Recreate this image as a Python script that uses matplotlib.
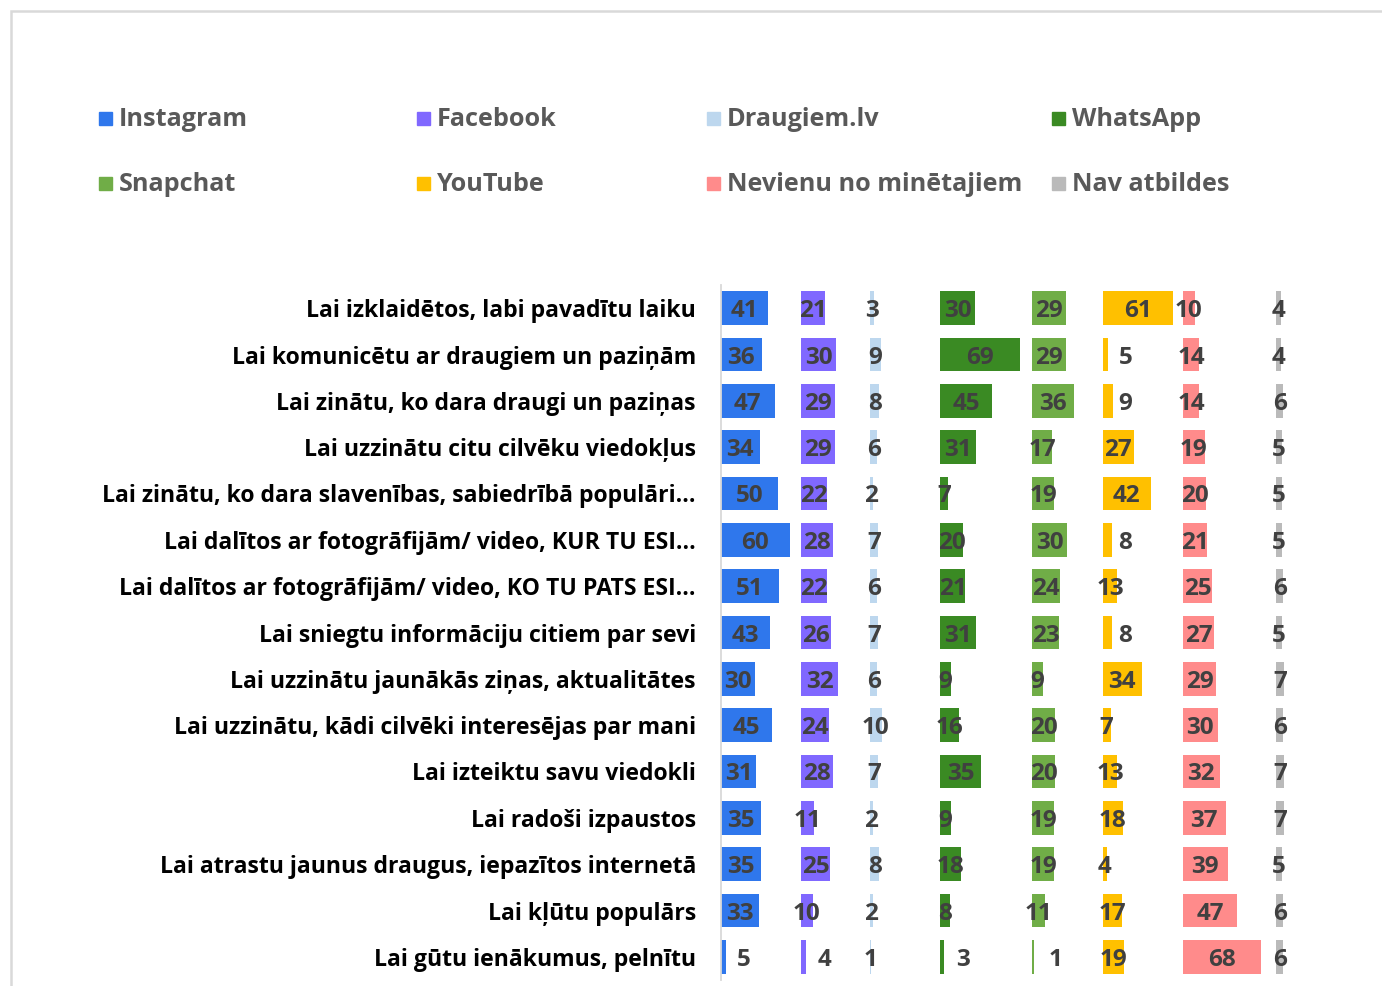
import matplotlib
matplotlib.use("Agg")
import matplotlib.pyplot as plt
from matplotlib.patches import Rectangle
from matplotlib import font_manager
import numpy as np

categories = [
    "Lai izklaidētos, labi pavadītu laiku",
    "Lai komunicētu ar draugiem un paziņām",
    "Lai zinātu, ko dara draugi un paziņas",
    "Lai uzzinātu citu cilvēku viedokļus",
    "Lai zinātu, ko dara slavenības, sabiedrībā populāri...",
    "Lai dalītos ar fotogrāfijām/ video, KUR TU ESI...",
    "Lai dalītos ar fotogrāfijām/ video, KO TU PATS ESI...",
    "Lai sniegtu informāciju citiem par sevi",
    "Lai uzzinātu jaunākās ziņas, aktualitātes",
    "Lai uzzinātu, kādi cilvēki interesējas par mani",
    "Lai izteiktu savu viedokli",
    "Lai radoši izpaustos",
    "Lai atrastu jaunus draugus, iepazītos internetā",
    "Lai kļūtu populārs",
    "Lai gūtu ienākumus, pelnītu",
]

series_names = ["Instagram", "Facebook", "Draugiem.lv", "WhatsApp",
                "Snapchat", "YouTube", "Nevienu no minētajiem", "Nav atbildes"]

instagram = [41, 36, 47, 34, 50, 60, 51, 43, 30, 45, 31, 35, 35, 33, 5]
facebook = [21, 30, 29, 29, 22, 28, 22, 26, 32, 24, 28, 11, 25, 10, 4]
draugiem = [3, 9, 8, 6, 2, 7, 6, 7, 6, 10, 7, 2, 8, 2, 1]
whatsapp = [30, 69, 45, 31, 7, 20, 21, 31, 9, 16, 35, 9, 18, 8, 3]
snapchat = [29, 29, 36, 17, 19, 30, 24, 23, 9, 20, 20, 19, 19, 11, 1]
youtube = [61, 5, 9, 27, 42, 8, 13, 8, 34, 7, 13, 18, 4, 17, 19]
nevienu = [10, 14, 14, 19, 20, 21, 25, 27, 29, 30, 32, 37, 39, 47, 68]
nav = [4, 4, 6, 5, 5, 5, 6, 5, 7, 6, 7, 7, 5, 6, 6]

series_values = [instagram, facebook, draugiem, whatsapp,
                 snapchat, youtube, nevienu, nav]

colors = ["#2F77EC", "#8068FF", "#BDD7EE", "#3A8A23",
          "#70AD47", "#FFC000", "#FF8B8B", "#BABABA"]

# column start (in value units) for each series panel
col_offsets = [0, 70, 130, 191, 271, 332, 402, 483]

# labels that sit beside their (too thin) bar instead of centred on it
outside_labels = {(0, 14), (1, 14), (3, 14), (4, 14),
                  (5, 1), (5, 2), (5, 5), (5, 7)}

# pick a bold-capable family
avail = {f.name: set() for f in font_manager.fontManager.ttflist}
for f in font_manager.fontManager.ttflist:
    avail[f.name].add(f.weight)
family = 'DejaVu Sans'
for cand in ['Open Sans', 'Noto Sans', 'Lato', 'Roboto', 'Inter']:
    ws = avail.get(cand, set())
    if any((isinstance(w, int) and w >= 600) or w in ('bold', 'semibold') for w in ws):
        family = cand
        break
plt.rcParams['font.family'] = [family, 'DejaVu Sans']

W, H = 1382, 986
fig = plt.figure(figsize=(W / 100, H / 100), dpi=100)

px_per_unit = 1.15
ax_left, ax_right = 720.7, 1300.0
ax_top, ax_bottom = 285.0, 980.0
ax = fig.add_axes([ax_left / W, 1 - ax_bottom / H,
                   (ax_right - ax_left) / W, (ax_bottom - ax_top) / H])

n = len(categories)
y = np.arange(n)
for si, (vals, col, off) in enumerate(zip(series_values, colors, col_offsets)):
    ax.barh(y, vals, left=off, height=0.73, color=col, linewidth=0)
    for j, v in enumerate(vals):
        if (si, j) in outside_labels:
            x = off + 20
        else:
            x = off + v / 2
        ax.text(x, j, str(v), ha='center', va='center_baseline',
                fontsize=17.5, fontweight='bold', color='#404040')

ax.set_ylim(n - 0.5, -0.5)
ax.set_xlim(0, (ax_right - ax_left) / px_per_unit)
ax.set_yticks(y)
ax.set_yticklabels(categories, fontsize=16.6, fontweight='bold', color='#000000')
ax.tick_params(axis='y', length=0, pad=17.8)
ax.set_xticks([])
for s in ['top', 'right', 'bottom']:
    ax.spines[s].set_visible(False)
ax.spines['left'].set_color('#D9D9D9')
ax.spines['left'].set_linewidth(1.3)

# legend (manual grid like the original)
leg_cols_x = [99, 417, 707, 1052]
leg_rows_base = [125.7, 190.7]
for i, (name, col) in enumerate(zip(series_names, colors)):
    r, c = divmod(i, 4)
    x0 = leg_cols_x[c]
    yb = leg_rows_base[r]
    fig.patches.append(Rectangle((x0 / W, 1 - (yb - 0.5) / H), 13 / W, 13 / H,
                                 transform=fig.transFigure, color=col))
    fig.text((x0 + 20) / W, 1 - yb / H, name, ha='left', va='baseline',
             fontsize=18.2, fontweight='bold', color='#595959')

# chart border
fig.patches.append(Rectangle((10.5 / W, -0.2), 2, 1.2 - 10.5 / H,
                             transform=fig.transFigure, fill=False,
                             edgecolor='#D9D9D9', linewidth=1.8))

fig.savefig("out.png", dpi=100)
